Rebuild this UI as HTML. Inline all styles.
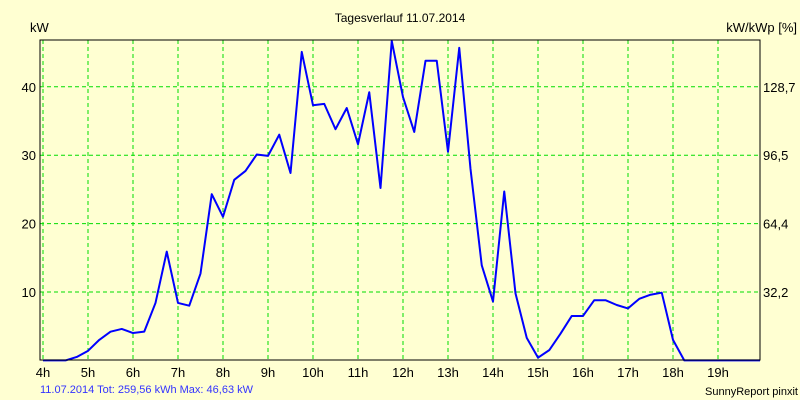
<!DOCTYPE html>
<html><head><meta charset="utf-8"><style>
html,body{margin:0;padding:0;background:#ffffd2;}
svg{display:block;font-family:"Liberation Sans",sans-serif;}
</style></head><body>
<svg width="800" height="400" xmlns="http://www.w3.org/2000/svg">
<rect x="0" y="0" width="800" height="400" fill="#ffffd2"/>
<text x="400" y="22" font-size="12" text-anchor="middle" fill="#000">Tagesverlauf 11.07.2014</text>
<text x="30" y="32" font-size="13" fill="#000">kW</text>
<text x="797" y="32" font-size="13" text-anchor="end" fill="#000">kW/kWp [%]</text>
<g id="grid"></g>
<g id="ticks"></g>
<defs><clipPath id="pc"><rect x="40" y="38" width="720" height="324"/></clipPath></defs>
<path id="series" fill="none" stroke="#0000ff" stroke-width="2" stroke-linejoin="round" clip-path="url(#pc)"/>
<rect x="40" y="40" width="720" height="320" fill="none" stroke="#000" stroke-width="1"/>
<text x="40" y="393" font-size="11" fill="#3333ff">11.07.2014 Tot: 259,56 kWh Max: 46,63 kW</text>
<text x="798" y="395" font-size="11" text-anchor="end" fill="#000">SunnyReport pinxit</text>
</svg>
<script>
const hourTicks=[4,5,6,7,8,9,10,11,12,13,14,15,16,17,18,19];
const yTicks=[10,20,30,40];
const rightTickLabels=["32,2","64,4","96,5","128,7"];
const startHour=4;
const stepMinutes=15;
const powerKW=[0,0,0,0.5,1.4,3.0,4.2,4.6,4.0,4.2,8.4,15.9,8.4,8.0,12.7,24.3,21.0,26.4,27.7,30.1,29.9,33.0,27.4,45.1,37.3,37.5,33.8,36.9,31.6,39.2,25.2,46.7,38.5,33.4,43.8,43.8,30.5,45.7,28.0,13.9,8.6,24.7,9.8,3.3,0.4,1.5,3.9,6.5,6.5,8.8,8.8,8.1,7.6,9.0,9.6,9.9,3.0,0,0,0,0,0,0,0,0,0];
const NS="http://www.w3.org/2000/svg";
function xs(h){return 43+(h-4)*45;}
function ys(v){return 360.4-v*6.84;}
const grid=document.getElementById('grid'),ticks=document.getElementById('ticks');
function mk(tag,attrs,parent){const e=document.createElementNS(NS,tag);for(const k in attrs)e.setAttribute(k,attrs[k]);parent.appendChild(e);return e;}
hourTicks.forEach(h=>{
  const x=xs(h);
  const l=mk('line',{x1:x,y1:40,x2:x,y2:360,stroke:'#00dd00','stroke-dasharray':'4,3'},grid);
  
  
  const t=mk('text',{x:x,y:377,'font-size':13,'text-anchor':'middle',fill:'#000'},ticks);
  t.textContent=h+'h';
  
  
});
yTicks.forEach((v,i)=>{
  const y=ys(v);
  const l=mk('line',{x1:40,y1:y,x2:760,y2:y,stroke:'#00dd00','stroke-dasharray':'4,3'},grid);
  
  
  const t=mk('text',{x:36,y:y+5,'font-size':13,'text-anchor':'end',fill:'#000'},ticks);
  t.textContent=v;
  
  
  const r=mk('text',{x:763,y:y+5,'font-size':13,fill:'#000'},ticks);
  r.textContent=rightTickLabels[i];
  
  
});
let d='';
powerKW.forEach((v,i)=>{const h=startHour+i*stepMinutes/60;d+=(i?'L':'M')+xs(h).toFixed(2)+','+ys(v).toFixed(2);});
document.getElementById('series').setAttribute('d',d);
</script>
</body></html>
